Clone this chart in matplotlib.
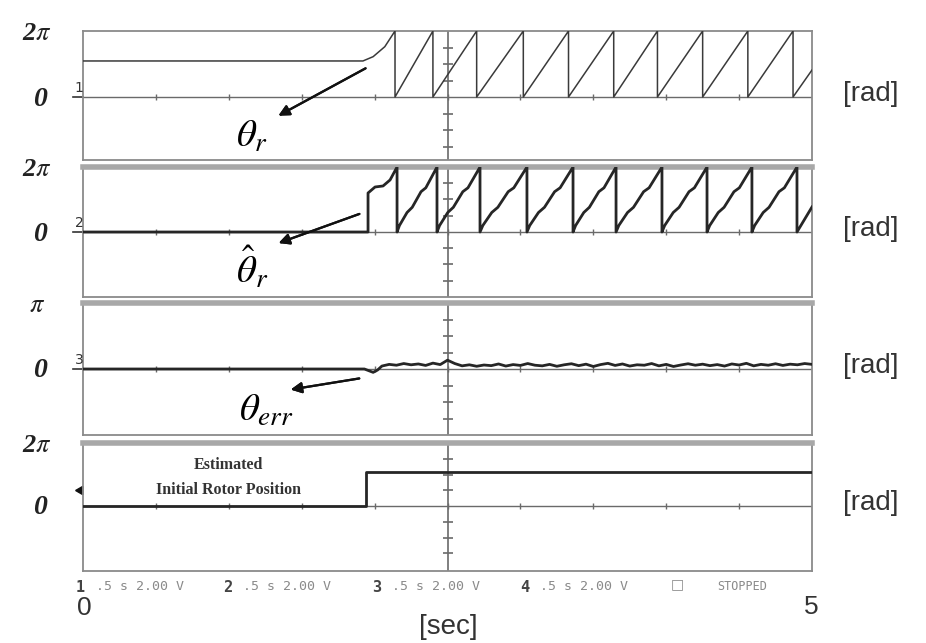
# -*- coding: utf-8 -*-
import numpy as np
import matplotlib.pyplot as plt

plt.rcParams['mathtext.fontset'] = 'stix'

# ---- data ----
# theta_r : hold position, then spin-up curve, then sawtooth wrap times
thr_start_t = [0.0, 1.92, 1.99, 2.07, 2.14]
thr_start_v = [3.43, 3.43, 3.84, 4.79, 2 * np.pi]
thr_wraps = [2.14, 2.40, 2.70, 3.02, 3.33, 3.64, 3.94, 4.25, 4.56, 4.87]
thr_end = 2.57

# theta_r hat : zero, jump to estimate, then staircase sawtooth
thh_start_t = [0.0, 1.955, 1.955, 2.003, 2.058, 2.106, 2.154]
thh_start_v = [0.0, 0.0, 3.77, 4.35, 4.45, 5.03, 2 * np.pi]
thh_wraps = [2.154, 2.428, 2.723, 3.045, 3.361, 3.656, 3.971, 4.280, 4.588, 4.897]
thh_end = 2.42
# shape of one ramp (fraction of period, fraction of 2pi)
ramp_f_t = [0.0, 0.06, 0.25, 0.38, 0.60, 0.72, 1.0]
ramp_f_v = [0.0, 0.10, 0.30, 0.38, 0.62, 0.68, 1.0]

# theta_err
err_start_t = [0.0, 1.93, 1.96, 1.99, 2.02]
err_start_v = [0.0, 0.0, -0.08, -0.16, -0.05]
err_t0, err_dt = 2.05, 0.05
err_v = [0.14, 0.22, 0.18, 0.26, 0.20, 0.24, 0.17, 0.28, 0.21, 0.42,
         0.26, 0.15, 0.20, 0.13, 0.19, 0.16, 0.24, 0.14, 0.21, 0.17,
         0.26, 0.18, 0.15, 0.22, 0.13, 0.20, 0.25, 0.16, 0.23, 0.12,
         0.21, 0.27, 0.17, 0.24, 0.14, 0.20, 0.18, 0.26, 0.15, 0.22,
         0.12, 0.19, 0.25, 0.18, 0.23, 0.16, 0.21, 0.14, 0.24, 0.19,
         0.27, 0.15, 0.22, 0.18, 0.25, 0.17, 0.23, 0.20, 0.26, 0.22]

# estimated initial rotor position
est_t = [0.0, 1.94, 1.94, 5.0]
est_v = [0.0, 0.0, 3.42, 3.42]

status = ['1 .5 s 2.00 V', '2 .5 s 2.00 V', '3 .5 s 2.00 V', '4 .5 s 2.00 V']


def sawtooth(t0, v0, wraps, end, ft=None, fv=None):
    t, v = list(t0), list(v0)
    for a, b in zip(wraps[:-1], wraps[1:]):
        if ft is None:
            t += [a, b]
            v += [0.0, 2 * np.pi]
        else:
            t += [a + f * (b - a) for f in ft]
            v += [f * 2 * np.pi for f in fv]
    t += [wraps[-1], 5.0]
    v += [0.0, end]
    return t, v


W, H = 926, 643
fig = plt.figure(figsize=(W / 100, H / 100), dpi=100)
fig.patch.set_facecolor('white')


def fp(x, y):
    return (x / W, 1 - y / H)


# (top px, zero px, bottom px, ymax, top label)
panels = [(31, 97, 160, 2 * np.pi, r'2$\pi$'),
          (167, 232, 297, 2 * np.pi, r'2$\pi$'),
          (303, 369, 435, np.pi, r'$\pi$'),
          (443, 506, 571, 2 * np.pi, r'2$\pi$')]

frame = '#8a8a8a'
ink = '#262626'
axes = []
for i, (top, zero, bot, ymax, lab) in enumerate(panels):
    ax = fig.add_axes([83 / W, 1 - bot / H, 729 / W, (bot - top) / H])
    ax.set_xlim(0, 5)
    ax.set_ylim(-ymax * (bot - zero) / (zero - top), ymax)
    ax.set_xticks([])
    ax.set_yticks([])
    for s in ax.spines.values():
        s.set_color(frame)
        s.set_linewidth(1.3)
    if i > 0:
        ax.spines['top'].set_color('#a8a8a8')
        ax.spines['top'].set_linewidth(4)
    # zero line with division marks
    ax.axhline(0, color='#6a6a6a', lw=1.0, zorder=1)
    ax.plot(np.arange(0.5, 5, 0.5), np.zeros(9), ls='none', marker='|',
            ms=5, mew=1.0, color='#6a6a6a', zorder=1)
    # centre graticule line
    ax.axvline(2.5, color='#6a6a6a', lw=1.2, zorder=1)
    ax.plot([2.5] * 6, [ymax * k / 4 for k in (-3, -2, -1, 1, 2, 3)], ls='none',
            marker='_', ms=7, mew=1.2, color='#6a6a6a', zorder=1)
    # left labels
    fig.text(*fp(37, top + 2), lab, fontsize=19, family='Liberation Serif',
             style='italic', weight='bold', ha='center', va='center', color='#222')
    fig.text(*fp(40, zero + 2), '0', fontsize=20, family='Liberation Serif',
             style='italic', weight='bold', ha='center', va='center', color='#222')
    fig.text(*fp(871, zero - 3), '[rad]', fontsize=20, family='Liberation Sans',
             ha='center', va='center', color='#333')
    if i < 3:
        fig.text(*fp(79, zero - 9), str(i + 1), fontsize=10, family='DejaVu Sans',
                 ha='center', va='center', color='#333')
        ax.plot([-0.07, 0], [0, 0], color='#333', lw=1.2, clip_on=False)
    axes.append(ax)

ax1, ax2, ax3, ax4 = axes

# panel 1
t, v = sawtooth(thr_start_t, thr_start_v, thr_wraps, thr_end)
ax1.plot(t, v, color='#3a3a3a', lw=1.1, zorder=3)

# panel 2
t, v = sawtooth(thh_start_t, thh_start_v, thh_wraps, thh_end, ramp_f_t, ramp_f_v)
ax2.plot(t, v, color=ink, lw=2.0, zorder=3)

# panel 3
err_t = err_t0 + err_dt * np.arange(len(err_v))
ax3.plot(err_start_t + list(err_t), err_start_v + err_v, color=ink, lw=2.0, zorder=3)

# panel 4
ax4.plot(est_t, est_v, color=ink, lw=2.0, zorder=3)
ax4.plot([-0.02], [1.6], ls='none', marker=(3, 0, 90), ms=7, color='#111',
         clip_on=False)
fig.text(*fp(228, 465), 'Estimated', fontsize=11.5, family='Liberation Serif',
         weight='bold', ha='center', va='center', color='#333')
fig.text(*fp(228, 490), 'Initial Rotor Position', fontsize=11.5,
         family='Liberation Serif', weight='bold', ha='center', va='center', color='#333')

# symbol labels with arrows
arrow = dict(arrowstyle='-|>', color='#111', lw=1.6, mutation_scale=16)
fig.text(*fp(252, 136), r'$\theta_r$', fontsize=28, ha='center', va='center')
fig.add_artist(plt.annotate('', xy=fp(276, 117), xytext=fp(368, 67),
                            xycoords='figure fraction', arrowprops=arrow))
fig.text(*fp(252, 268), r'$\hat{\theta}_r$', fontsize=28, ha='center', va='center')
fig.add_artist(plt.annotate('', xy=fp(276, 244), xytext=fp(362, 213),
                            xycoords='figure fraction', arrowprops=arrow))
fig.text(*fp(266, 410), r'$\theta_{err}$', fontsize=28, ha='center', va='center')
fig.add_artist(plt.annotate('', xy=fp(288, 390), xytext=fp(362, 378),
                            xycoords='figure fraction', arrowprops=arrow))

# scope status line
for k, s in enumerate(status):
    x0 = [76, 223, 372, 520][k]
    fig.text(*fp(x0, 587), s[0], fontsize=11, family='DejaVu Sans Mono',
             weight='bold', ha='left', va='center', color='#444')
    fig.text(*fp(x0 + 20, 587), s[2:], fontsize=9.5, family='DejaVu Sans Mono',
             ha='left', va='center', color='#8a8a8a')
fig.text(*fp(677, 584), '\u25a1', fontsize=10, family='DejaVu Sans',
         ha='center', va='center', color='#8a8a8a')
fig.text(*fp(742, 587), 'STOPPED', fontsize=8.5, family='DejaVu Sans Mono',
         ha='center', va='center', color='#8a8a8a')

fig.text(*fp(84, 608), '0', fontsize=19, family='Liberation Sans',
         ha='center', va='center', color='#333')
fig.text(*fp(811, 607), '5', fontsize=19, family='Liberation Sans',
         ha='center', va='center', color='#333')
fig.text(*fp(448, 627), '[sec]', fontsize=20, family='Liberation Sans',
         ha='center', va='center', color='#333')

fig.savefig('out.png', dpi=100)
